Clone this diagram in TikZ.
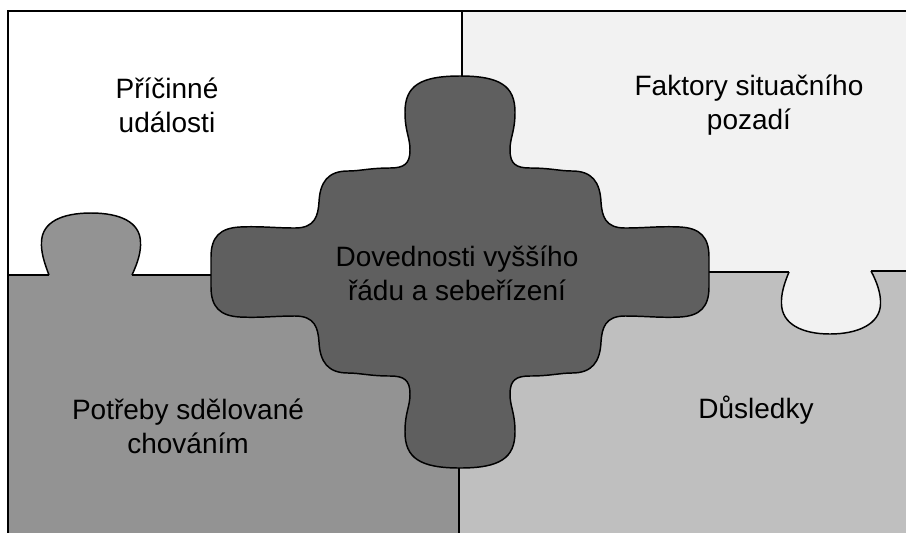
\documentclass[tikz,border=0pt]{standalone}
\usepackage{fontspec}
\setmainfont{Liberation Sans}
\definecolor{paleGrey}{HTML}{F2F2F2}
\definecolor{midGrey}{HTML}{939393}
\definecolor{lightGrey}{HTML}{BFBFBF}
\definecolor{darkGrey}{HTML}{5F5F5F}
\tikzset{
  frameline/.style={draw=black, line width=1.7pt},
  divider/.style={draw=black, line width=0.9pt},
  piece/.style={draw=black, line width=1.1pt},
  label/.style={align=center, font=\fontsize{21}{25.5}\selectfont, text=black, inner sep=0pt},
}
\begin{document}
\begin{tikzpicture}[x=0.75pt, y=-0.75pt]
\useasboundingbox (0,0) rectangle (906,533);
\clip (0,0) rectangle (906,533);

% four quarters of the frame
\fill[white]      (8,11)   rectangle (462,275);
\fill[paleGrey]   (462,11) rectangle (906,272);
\fill[midGrey]    (8,275)  rectangle (459,533);
\fill[lightGrey]  (459,272) rectangle (906,533);

% straight joints between the quarters
\draw[divider] (8,275) -- (49,275);
\draw[divider] (132,275) -- (460,275);
\draw[divider] (460,272) -- (789,272);
\draw[divider] (871,271) -- (906,271);
\draw[divider] (462,11) -- (462,272);
\draw[divider] (459,272) -- (459,533);

% knob of the lower-left piece
\draw[piece, fill=midGrey] (49,275) .. controls (44,262) and (41,252) .. (41.5,242)
  .. controls (42,222) and (62,213) .. (91,213)
  .. controls (120,213) and (140,222) .. (140.5,242)
  .. controls (141,252) and (138,262) .. (132,275);

% knob of the upper-right piece
\draw[piece, fill=paleGrey] (789,272) .. controls (784,284) and (781,294) .. (781.5,304)
  .. controls (782,324) and (802,334) .. (830,334)
  .. controls (858,334) and (880,324) .. (880.5,304)
  .. controls (881,294) and (877,282) .. (871,271);

% central cross-shaped piece
\begin{scope}[shift={(460,272)}]
\draw[piece, fill=darkGrey] (0,-196)
  .. controls (40,-196) and (55,-186) .. (55,-160)
  .. controls (55,-140) and (50,-135) .. (50,-122)
  .. controls (50,-108) and (56,-104) .. (70,-104)
  .. controls (90,-104) and (100,-101) .. (112,-101)
  .. controls (132,-101) and (140,-90) .. (141,-70)
  .. controls (142,-56) and (145,-44) .. (165,-44)
  .. controls (185,-44) and (200,-46) .. (220,-45)
  .. controls (240,-44) and (249,-35) .. (249,-15)
  -- (249,15)
  .. controls (249,35) and (240,44) .. (220,45)
  .. controls (200,46) and (185,44) .. (165,44)
  .. controls (145,44) and (142,56) .. (141,70)
  .. controls (140,90) and (132,101) .. (112,101)
  .. controls (100,101) and (90,104) .. (70,104)
  .. controls (56,104) and (50,108) .. (50,122)
  .. controls (50,135) and (55,140) .. (55,160)
  .. controls (55,186) and (40,196) .. (0,196)
  .. controls (-40,196) and (-55,186) .. (-55,160)
  .. controls (-55,140) and (-50,135) .. (-50,122)
  .. controls (-50,108) and (-56,104) .. (-70,104)
  .. controls (-90,104) and (-100,101) .. (-112,101)
  .. controls (-132,101) and (-140,90) .. (-141,70)
  .. controls (-142,56) and (-145,44) .. (-165,44)
  .. controls (-185,44) and (-200,46) .. (-220,45)
  .. controls (-240,44) and (-249,35) .. (-249,15)
  -- (-249,-15)
  .. controls (-249,-35) and (-240,-44) .. (-220,-45)
  .. controls (-200,-46) and (-185,-44) .. (-165,-44)
  .. controls (-145,-44) and (-142,-56) .. (-141,-70)
  .. controls (-140,-90) and (-132,-101) .. (-112,-101)
  .. controls (-100,-101) and (-90,-104) .. (-70,-104)
  .. controls (-56,-104) and (-50,-108) .. (-50,-122)
  .. controls (-50,-135) and (-55,-140) .. (-55,-160)
  .. controls (-55,-186) and (-40,-196) .. (0,-196) -- cycle;
\end{scope}

% outer frame (top and left edges)
\draw[frameline] (906,11) -- (8,11) -- (8,533);

% labels
\node[label] (causes)   at (167,105) {Příčinné\\události};
\node[label] (setting)  at (749,105) {Faktory situačního\\pozadí};
\node[label] (skills)   at (457,273) {Dovednosti vyššího\\řádu a sebeřízení};
\node[label] (needs)    at (188,426) {Potřeby sdělované\\chováním};
\node[label] (outcomes) at (756,410) {Důsledky};
\end{tikzpicture}
\end{document}
